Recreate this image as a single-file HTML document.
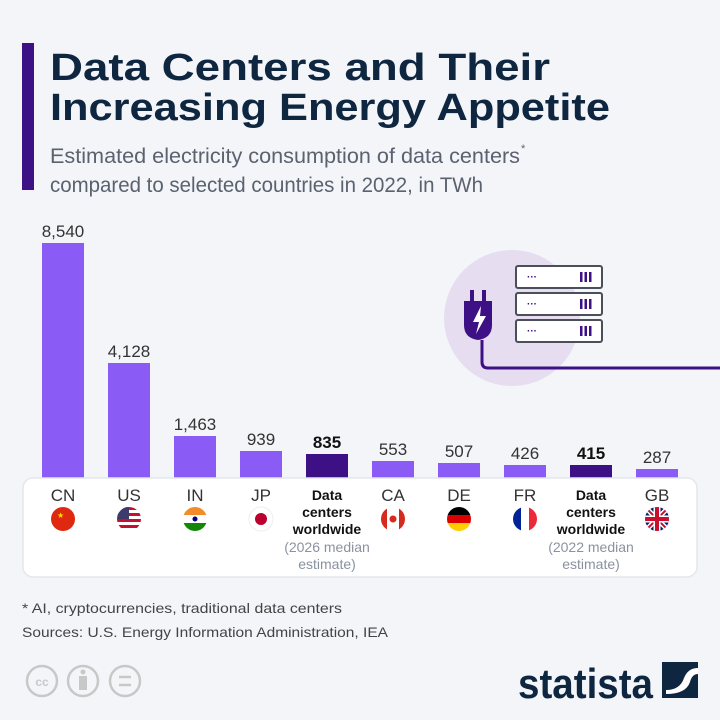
<!DOCTYPE html>
<html><head><meta charset="utf-8"><style>
html,body{margin:0;padding:0;background:#f3f5f9;}
svg{display:block;font-family:"Liberation Sans",sans-serif;}
</style></head><body>
<svg width="720" height="720" viewBox="0 0 720 720" xmlns="http://www.w3.org/2000/svg">
<defs>
<clipPath id="fc"><circle cx="0" cy="0" r="12"/></clipPath>
</defs>
<rect width="720" height="720" fill="#f3f5f9"/>
<rect x="22" y="43" width="12" height="147" fill="#3d1185"/>
<text x="50" y="80" font-size="38" font-weight="bold" fill="#0f2640" textLength="500" lengthAdjust="spacingAndGlyphs">Data Centers and Their</text>
<text x="50" y="120" font-size="38" font-weight="bold" fill="#0f2640" textLength="560" lengthAdjust="spacingAndGlyphs">Increasing Energy Appetite</text>
<text x="50" y="163" font-size="21" fill="#5a6270" textLength="470" lengthAdjust="spacingAndGlyphs">Estimated electricity consumption of data centers</text>
<text x="521" y="152" font-size="11" fill="#5a6270">*</text>
<text x="50" y="192" font-size="21" fill="#5a6270" textLength="433" lengthAdjust="spacingAndGlyphs">compared to selected countries in 2022, in TWh</text>

<!-- illustration -->
<circle cx="512" cy="318" r="68" fill="#e6def0"/>
<g fill="#fff" stroke="#4a4f5a" stroke-width="2">
<rect x="516" y="266" width="86" height="22" rx="2"/>
<rect x="516" y="293" width="86" height="22" rx="2"/>
<rect x="516" y="320" width="86" height="22" rx="2"/>
</g>
<g fill="#3d1185" font-size="10" font-weight="bold">
<text x="527" y="280">···</text><text x="527" y="307">···</text><text x="527" y="334">···</text>
</g>
<g fill="#3d1185">
<rect x="580" y="272" width="2.5" height="10"/><rect x="584.5" y="272" width="2.5" height="10"/><rect x="589" y="272" width="2.5" height="10"/>
<rect x="580" y="299" width="2.5" height="10"/><rect x="584.5" y="299" width="2.5" height="10"/><rect x="589" y="299" width="2.5" height="10"/>
<rect x="580" y="326" width="2.5" height="10"/><rect x="584.5" y="326" width="2.5" height="10"/><rect x="589" y="326" width="2.5" height="10"/>
<rect x="470" y="290" width="4" height="12"/><rect x="482" y="290" width="4" height="12"/>
<path d="M464 301 H492 V325 Q492 338 478 340 Q464 338 464 325 Z"/>
</g>
<path d="M481 306 L473 322 L479 322 L476 334 L486 316 L480 316 Z" fill="#fff"/>
<path d="M482 340 V362 Q482 368 488 368 H720" fill="none" stroke="#3d1185" stroke-width="3"/>

<!-- bars -->
<g fill="#8a5cf5">
<rect x="42" y="243" width="42" height="240"/>
<rect x="108" y="363" width="42" height="120"/>
<rect x="174" y="436" width="42" height="47"/>
<rect x="240" y="451" width="42" height="32"/>
<rect x="372" y="461" width="42" height="22"/>
<rect x="438" y="463" width="42" height="20"/>
<rect x="504" y="465" width="42" height="18"/>
<rect x="636" y="469" width="42" height="14"/>
</g>
<g fill="#3d1185">
<rect x="306" y="454" width="42" height="29"/>
<rect x="570" y="465" width="42" height="18"/>
</g>
<g font-size="17" fill="#333" text-anchor="middle">
<text x="63" y="237">8,540</text>
<text x="129" y="357">4,128</text>
<text x="195" y="430">1,463</text>
<text x="261" y="445">939</text>
<text x="327" y="448" font-weight="bold" fill="#111">835</text>
<text x="393" y="455">553</text>
<text x="459" y="457">507</text>
<text x="525" y="459">426</text>
<text x="591" y="459" font-weight="bold" fill="#111">415</text>
<text x="657" y="463">287</text>
</g>

<!-- panel -->
<rect x="23" y="478" width="674" height="99" rx="10" fill="#ffffff" stroke="#e4e7ee" stroke-width="1.5"/>
<g font-size="17" fill="#333" text-anchor="middle">
<text x="63" y="501">CN</text><text x="129" y="501">US</text><text x="195" y="501">IN</text><text x="261" y="501">JP</text>
<text x="393" y="501">CA</text><text x="459" y="501">DE</text><text x="525" y="501">FR</text><text x="657" y="501">GB</text>
</g>
<g font-size="14" font-weight="bold" fill="#111" text-anchor="middle">
<text x="327" y="500">Data</text><text x="327" y="517">centers</text><text x="327" y="534">worldwide</text>
<text x="591" y="500">Data</text><text x="591" y="517">centers</text><text x="591" y="534">worldwide</text>
</g>
<g font-size="14" fill="#8a92a0" text-anchor="middle">
<text x="327" y="552">(2026 median</text><text x="327" y="569">estimate)</text>
<text x="591" y="552">(2022 median</text><text x="591" y="569">estimate)</text>
</g>
<!-- flags -->
<g transform="translate(63,519)"><circle r="12" fill="#de2910"/><text x="-6" y="-1" font-size="8" fill="#ffde00">★</text></g>
<g transform="translate(129,519)" clip-path="url(#fc)"><circle r="12" fill="#fff"/>
<g fill="#c8102e"><rect x="-12" y="-12" width="24" height="3"/><rect x="-12" y="-6" width="24" height="3"/><rect x="-12" y="0" width="24" height="3"/><rect x="-12" y="6" width="24" height="3"/></g>
<rect x="-12" y="-12" width="12" height="12" fill="#3c3b6e"/></g>
<g transform="translate(195,519)" clip-path="url(#fc)"><rect x="-12" y="-12" width="24" height="8" fill="#f28c28"/><rect x="-12" y="-4" width="24" height="8" fill="#fff"/><rect x="-12" y="4" width="24" height="8" fill="#138808"/><circle r="2.5" fill="#000080"/></g>
<g transform="translate(261,519)"><circle r="12" fill="#fff" stroke="#eee"/><circle r="6" fill="#bc002d"/></g>
<g transform="translate(393,519)" clip-path="url(#fc)"><circle r="12" fill="#fff"/><rect x="-12" y="-12" width="6" height="24" fill="#d52b1e"/><rect x="6" y="-12" width="6" height="24" fill="#d52b1e"/><circle r="3.5" fill="#d52b1e"/></g>
<g transform="translate(459,519)" clip-path="url(#fc)"><rect x="-12" y="-12" width="24" height="8" fill="#000"/><rect x="-12" y="-4" width="24" height="8" fill="#dd0000"/><rect x="-12" y="4" width="24" height="8" fill="#ffce00"/></g>
<g transform="translate(525,519)" clip-path="url(#fc)"><rect x="-12" y="-12" width="8" height="24" fill="#002395"/><rect x="-4" y="-12" width="8" height="24" fill="#fff"/><rect x="4" y="-12" width="8" height="24" fill="#ed2939"/></g>
<g transform="translate(657,519)" clip-path="url(#fc)"><rect x="-12" y="-12" width="24" height="24" fill="#012169"/>
<path d="M-12 -12 L12 12 M12 -12 L-12 12" stroke="#fff" stroke-width="5"/><path d="M-12 -12 L12 12 M12 -12 L-12 12" stroke="#c8102e" stroke-width="2"/>
<path d="M0 -12 V12 M-12 0 H12" stroke="#fff" stroke-width="7"/><path d="M0 -12 V12 M-12 0 H12" stroke="#c8102e" stroke-width="4"/></g>

<!-- footer -->
<text x="22" y="613" font-size="14" fill="#444" textLength="320" lengthAdjust="spacingAndGlyphs">* AI, cryptocurrencies, traditional data centers</text>
<text x="22" y="637" font-size="14" fill="#444" textLength="366" lengthAdjust="spacingAndGlyphs">Sources: U.S. Energy Information Administration, IEA</text>
<g fill="none" stroke="#c8c8c8" stroke-width="2.5">
<circle cx="42" cy="681" r="15"/><circle cx="83" cy="681" r="15"/><circle cx="125" cy="681" r="15"/>
<path d="M119 677 H131 M119 685 H131"/>
</g>
<text x="42" y="686" font-size="12" font-weight="bold" fill="#c8c8c8" text-anchor="middle">cc</text>
<circle cx="83" cy="672" r="2.5" fill="#c8c8c8"/><rect x="79" y="676" width="8" height="14" fill="#c8c8c8"/>
<text x="518" y="698" font-size="42" font-weight="bold" fill="#0f2640" textLength="135" lengthAdjust="spacingAndGlyphs">statista</text>
<rect x="662" y="662" width="36" height="36" fill="#0f2640"/>
<path d="M666 690 Q680 690 684 678 Q688 668 698 668 V674 Q692 674 690 682 Q686 694 666 694 Z" fill="#fff"/>
</svg>
</body></html>
